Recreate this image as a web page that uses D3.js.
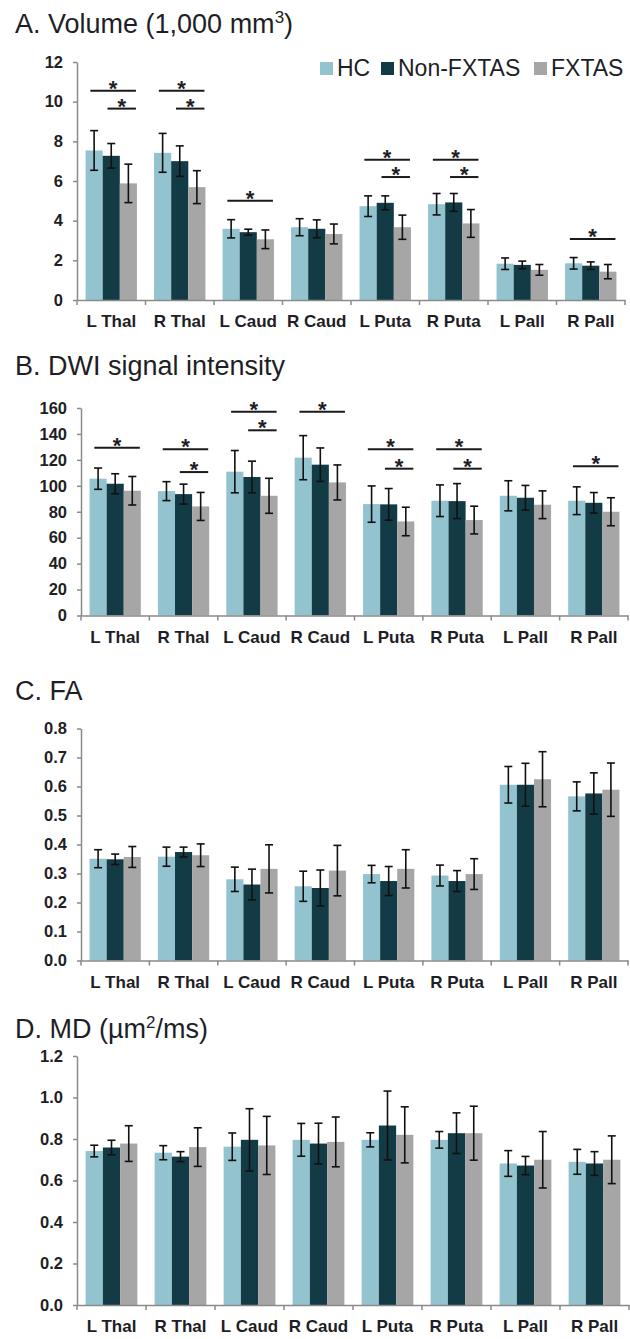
<!DOCTYPE html>
<html>
<head>
<meta charset="utf-8">
<script src="https://cdn.jsdelivr.net/npm/d3@7"></script>
<style>
  body { margin: 0; background: #fff; }
  text { font-family: "Liberation Sans", Arial, sans-serif; fill: #1e1e26; }
</style>
</head>
<body>
<div id="chart"></div>
<script>
const categories = ["L Thal", "R Thal", "L Caud", "R Caud", "L Puta", "R Puta", "L Pall", "R Pall"];
const groups = ["HC", "Non-FXTAS", "FXTAS"];
const colors = ["#93c3cf", "#133b45", "#a6a6a6"];

// A. Volume (1,000 mm3)
const volHC = [7.54, 7.42, 3.59, 3.67, 4.73, 4.83, 1.83, 1.85];
const volHCErr = [1.0, 0.98, 0.46, 0.43, 0.52, 0.54, 0.29, 0.29];
const volNon = [7.27, 7.0, 3.42, 3.59, 4.9, 4.92, 1.77, 1.73];
const volNonErr = [0.62, 0.77, 0.15, 0.45, 0.35, 0.45, 0.19, 0.19];
const volFx = [5.88, 5.69, 3.06, 3.33, 3.67, 3.86, 1.52, 1.43];
const volFxErr = [0.97, 0.83, 0.47, 0.5, 0.61, 0.7, 0.27, 0.36];
const volTicks = [0, 2, 4, 6, 8, 10, 12];
// significance bars: [category, "long" = HC vs FXTAS / "short" = Non-FXTAS vs FXTAS, height]
const volSig = [["L Thal", "long", 10.55], ["L Thal", "short", 9.65], ["R Thal", "long", 10.55], ["R Thal", "short", 9.65],
  ["L Caud", "long", 5.0], ["L Puta", "long", 7.07], ["L Puta", "short", 6.2], ["R Puta", "long", 7.07],
  ["R Puta", "short", 6.2], ["R Pall", "long", 3.08]];

// B. DWI signal intensity
const dwiHC = [105.5, 95.9, 110.9, 121.7, 85.9, 88.5, 92.3, 88.5];
const dwiHCErr = [8.2, 7.3, 16.3, 17, 14, 12.2, 11.6, 10.7];
const dwiNon = [101.6, 93.6, 106.8, 116.3, 85.7, 88.2, 90.8, 86.9];
const dwiNonErr = [7.7, 7.7, 12.2, 12.9, 12.2, 13.5, 9.5, 7.9];
const dwiFx = [96.2, 84.1, 92.3, 102.6, 72.5, 73.6, 85.4, 80];
const dwiFxErr = [11, 10.8, 13.5, 13.5, 11, 10.7, 10.7, 10.8];
const dwiTicks = [0, 20, 40, 60, 80, 100, 120, 140, 160];
const dwiSig = [["L Thal", "long", 129.4], ["R Thal", "long", 128.1], ["R Thal", "short", 110.6],
  ["L Caud", "long", 157.2], ["L Caud", "short", 142.8], ["R Caud", "long", 157.2],
  ["L Puta", "long", 128.1], ["L Puta", "short", 113.2], ["R Puta", "long", 128.1], ["R Puta", "short", 113.2],
  ["R Pall", "long", 115]];

// C. FA
const faHC = [0.351, 0.358, 0.280, 0.256, 0.298, 0.293, 0.606, 0.566];
const faHCErr = [0.031, 0.033, 0.042, 0.052, 0.030, 0.036, 0.063, 0.050];
const faNon = [0.349, 0.374, 0.262, 0.250, 0.274, 0.274, 0.606, 0.576];
const faNonErr = [0.018, 0.017, 0.053, 0.062, 0.050, 0.036, 0.074, 0.071];
const faFx = [0.357, 0.363, 0.316, 0.310, 0.316, 0.298, 0.625, 0.589];
const faFxErr = [0.036, 0.039, 0.083, 0.087, 0.066, 0.053, 0.095, 0.092];
const faTicks = [0, 0.1, 0.2, 0.3, 0.4, 0.5, 0.6, 0.7, 0.8];

// D. MD (um2/ms)
const mdHC = [0.742, 0.734, 0.763, 0.796, 0.796, 0.796, 0.682, 0.69];
const mdHCErr = [0.028, 0.034, 0.066, 0.079, 0.034, 0.04, 0.062, 0.06];
const mdNon = [0.759, 0.715, 0.796, 0.778, 0.865, 0.828, 0.672, 0.682];
const mdNonErr = [0.035, 0.024, 0.15, 0.098, 0.166, 0.098, 0.044, 0.057];
const mdFx = [0.778, 0.761, 0.769, 0.786, 0.82, 0.828, 0.70, 0.70];
const mdFxErr = [0.086, 0.093, 0.14, 0.12, 0.135, 0.13, 0.136, 0.115];
const mdTicks = [0, 0.2, 0.4, 0.6, 0.8, 1.0, 1.2];

const svg = d3.select("#chart").append("svg")
    .attr("width", 630)
    .attr("height", 1339);

function drawPanel(p) {
    const g = svg.append("g");

    // title
    const t = g.append("text")
        .attr("x", 15)
        .attr("y", p.titleY)
        .style("font-size", "27px");
    t.append("tspan").text(p.title);
    if (p.sup) {
        t.append("tspan").attr("dy", -10).style("font-size", "17px").text(p.sup);
        t.append("tspan").attr("dy", 10).text(p.after);
    }

    const x0 = d3.scaleBand().domain(categories).range([p.left, p.right]);
    const x1 = d3.scaleBand().domain(groups).range([0, x0.bandwidth()]).paddingOuter(0.5);
    const y = d3.scaleLinear().domain([0, p.ticks[p.ticks.length - 1]]).range([p.bottom, p.top]);

    const rows = categories.map((c, i) => ({
        cat: c,
        vals: groups.map((gr, j) => ({group: gr, k: j, mean: p.means[j][i], err: p.errs[j][i]}))
    }));

    const cat = g.selectAll(".cat")
        .data(rows)
        .enter().append("g")
        .attr("transform", d => `translate(${x0(d.cat)},0)`);

    cat.selectAll("rect")
        .data(d => d.vals)
        .enter().append("rect")
        .attr("x", d => x1(d.group))
        .attr("width", x1.bandwidth())
        .attr("y", d => y(d.mean))
        .attr("height", d => y(0) - y(d.mean))
        .attr("fill", d => colors[d.k]);

    // error bars
    const eb = cat.selectAll(".err")
        .data(d => d.vals)
        .enter().append("g")
        .attr("transform", d => `translate(${x1(d.group) + x1.bandwidth() / 2},0)`)
        .attr("stroke", "#111")
        .attr("stroke-width", 1.6);
    eb.append("line")
        .attr("y1", d => y(d.mean + d.err))
        .attr("y2", d => y(d.mean - d.err));
    eb.append("line")
        .attr("x1", -4).attr("x2", 4)
        .attr("y1", d => y(d.mean + d.err))
        .attr("y2", d => y(d.mean + d.err));
    eb.append("line")
        .attr("x1", -4).attr("x2", 4)
        .attr("y1", d => y(d.mean - d.err))
        .attr("y2", d => y(d.mean - d.err));

    // significance markers
    if (p.sig) {
        const bw = x1.bandwidth();
        p.sig.forEach(([c, kind, v]) => {
            const start = x0(c) + (kind === "long" ? x1("HC") : x1("Non-FXTAS")) + bw * 0.28;
            const end = x0(c) + x1("FXTAS") + bw - 1;
            g.append("line")
                .attr("x1", start).attr("x2", end)
                .attr("y1", y(v)).attr("y2", y(v))
                .attr("stroke", "#1a1a1a")
                .attr("stroke-width", 2);
            g.append("text")
                .attr("x", (start + end) / 2)
                .attr("y", y(v) + 5)
                .attr("text-anchor", "middle")
                .style("font-size", "22px")
                .style("font-weight", "bold")
                .text("*");
        });
    }

    // y axis
    const ya = g.append("g")
        .attr("transform", `translate(${p.left},0)`)
        .call(d3.axisLeft(y).tickValues(p.ticks).tickFormat(p.fmt).tickSize(4).tickSizeOuter(0).tickPadding(10));
    ya.selectAll("text").style("font-size", "16.5px").style("font-weight", "bold").attr("fill", "#1e1e26");

    // x axis
    const xa = g.append("g")
        .attr("transform", `translate(0,${p.bottom})`)
        .call(d3.axisBottom(x0).tickSize(0).tickSizeOuter(0).tickPadding(15));
    xa.selectAll("text").style("font-size", "17px").style("font-weight", "bold").attr("fill", "#1e1e26");
    xa.selectAll(".bound")
        .data(categories.map(c => x0(c)).concat([p.right]))
        .enter().append("line")
        .attr("x1", d => d).attr("x2", d => d)
        .attr("y1", 0).attr("y2", 5);

    [ya, xa].forEach(a => {
        a.selectAll("path, line").attr("stroke", "#8a8a8a").attr("stroke-width", 1.5);
        a.select(".domain").attr("stroke", "#8a8a8a");
    });

    if (p.legend) {
        const lg = g.append("g");
        const lx = [320, 381, 534];
        groups.forEach((gr, j) => {
            lg.append("rect")
                .attr("x", lx[j]).attr("y", 62)
                .attr("width", 13).attr("height", 13)
                .attr("fill", colors[j]);
            lg.append("text")
                .attr("x", lx[j] + 17).attr("y", 76)
                .style("font-size", "23px")
                .text(gr);
        });
    }
}

drawPanel({title: "A. Volume (1,000 mm", sup: "3", after: ")", titleY: 33,
    left: 77, right: 625, top: 62, bottom: 300, ticks: volTicks, fmt: d3.format("d"),
    means: [volHC, volNon, volFx], errs: [volHCErr, volNonErr, volFxErr], sig: volSig, legend: true});

drawPanel({title: "B. DWI signal intensity", titleY: 375,
    left: 81, right: 628, top: 408, bottom: 615.5, ticks: dwiTicks, fmt: d3.format("d"),
    means: [dwiHC, dwiNon, dwiFx], errs: [dwiHCErr, dwiNonErr, dwiFxErr], sig: dwiSig});

drawPanel({title: "C. FA", titleY: 700,
    left: 81, right: 628, top: 728.5, bottom: 960.5, ticks: faTicks, fmt: d3.format(".1f"),
    means: [faHC, faNon, faFx], errs: [faHCErr, faNonErr, faFxErr]});

drawPanel({title: "D. MD (µm", sup: "2", after: "/ms)", titleY: 1038,
    left: 77, right: 629, top: 1056, bottom: 1305, ticks: mdTicks, fmt: d3.format(".1f"),
    means: [mdHC, mdNon, mdFx], errs: [mdHCErr, mdNonErr, mdFxErr]});
</script>
</body>
</html>
